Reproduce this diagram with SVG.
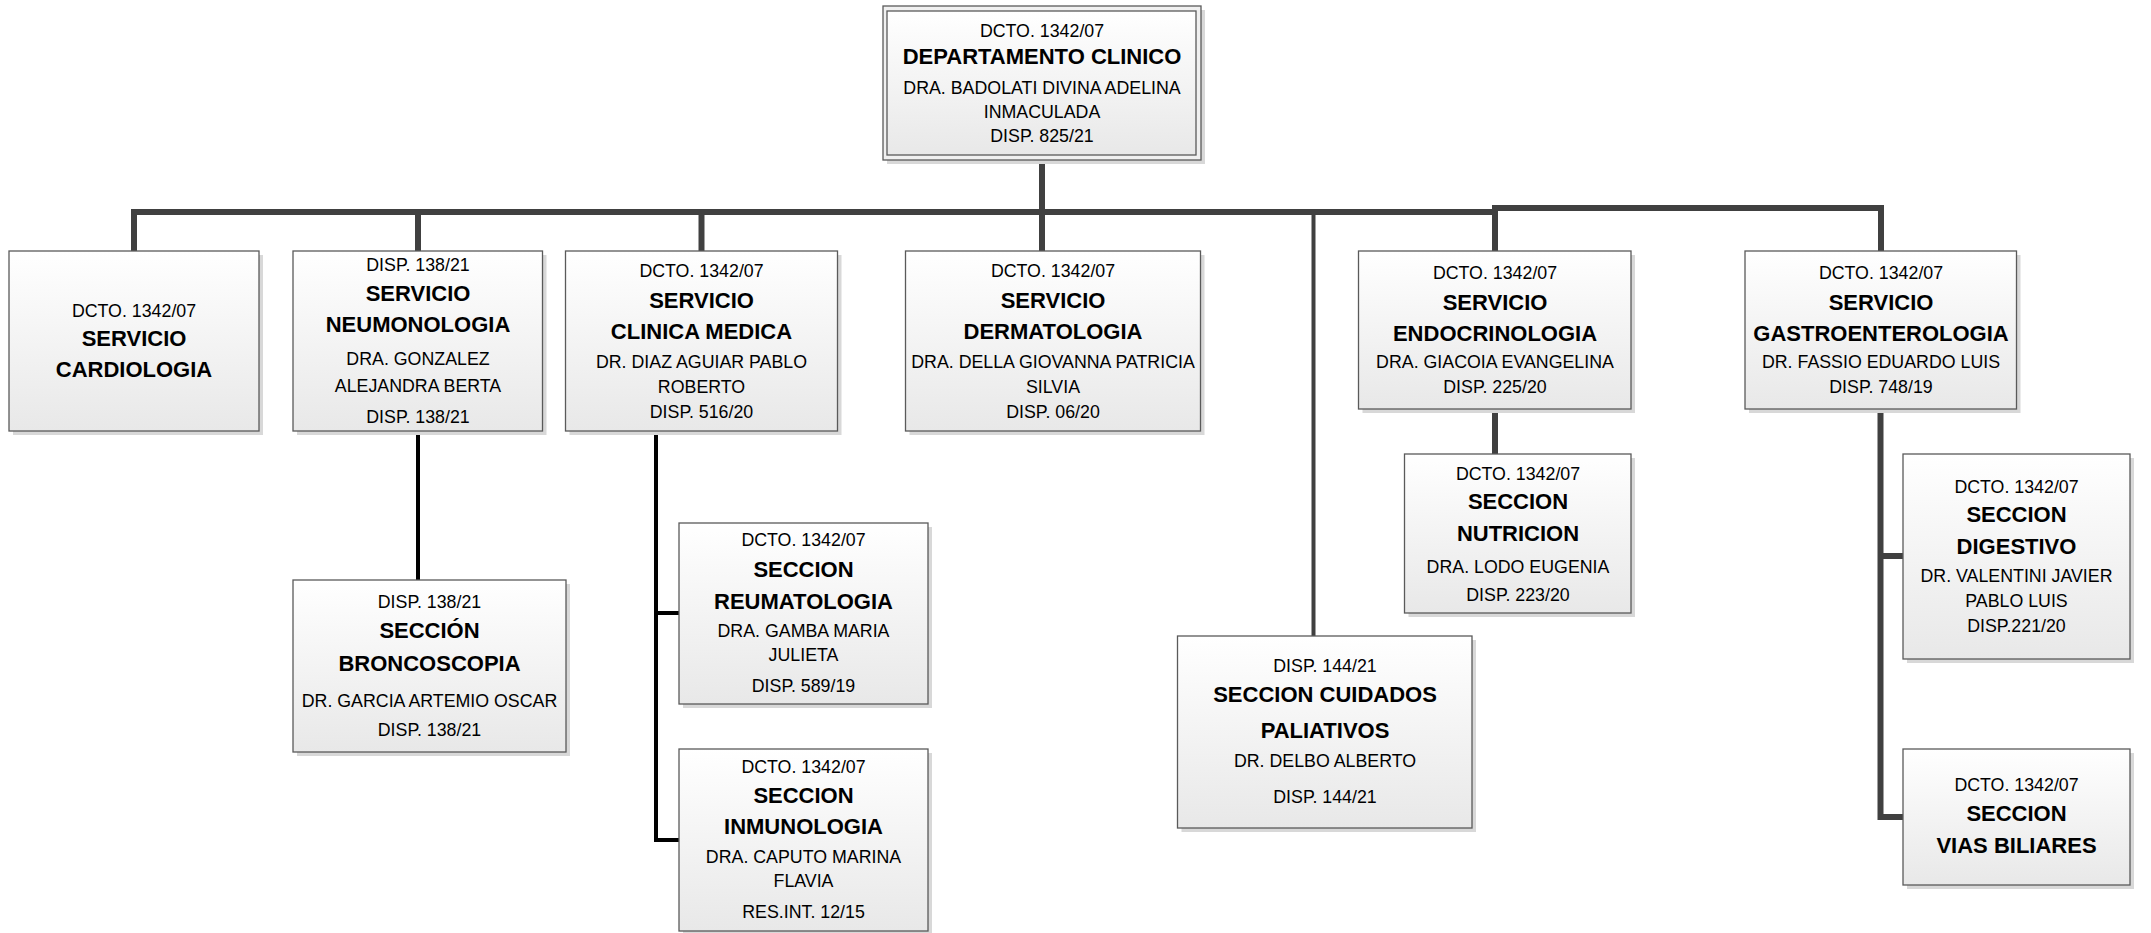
<svg xmlns="http://www.w3.org/2000/svg" width="2151" height="933" viewBox="0 0 2151 933">
<defs>
<linearGradient id="g" x1="0" y1="0" x2="0" y2="1">
<stop offset="0" stop-color="#ffffff"/>
<stop offset="1" stop-color="#e8e8e8"/>
</linearGradient>
<style>
.sh{fill:#d8d8d8}
.bx{fill:url(#g);stroke:#5a5a5a;stroke-width:1.3}
.ob{fill:#f0f0f0;stroke:#5a5a5a;stroke-width:1.3}
text{font-family:"Liberation Sans",Arial,sans-serif;text-anchor:middle;fill:#000}
.r{font-size:17.8px}
.b{font-size:22px;font-weight:bold}
.c{fill:none;stroke:#404040;stroke-width:6;stroke-linejoin:miter}
.t{fill:none;stroke:#404040;stroke-width:4}
.k{fill:none;stroke:#000;stroke-width:4}
</style>
</defs>
<rect width="2151" height="933" fill="#fff"/>
<g id="connectors">
<path class="c" d="M1042,155 V251"/>
<path class="c" d="M134,251 V212 H1495"/>
<path class="c" d="M1495,251 V208 H1881 V251"/>
<path class="c" d="M418,212 V251"/>
<path class="c" d="M701.5,212 V251"/>
<path class="t" d="M1313.5,212 V636"/>
<path class="c" d="M1495,409 V454"/>
<path class="c" d="M1880.5,409 V817 H1903"/>
<path class="c" d="M1880.5,556 H1903"/>
<path class="k" d="M418,431 V580"/>
<path class="k" d="M656,431 V840 H679"/>
<path class="k" d="M656,613 H679"/>
</g>
<g id="n-depto">
<rect class="sh" x="887" y="10" width="318" height="154"/>
<rect class="ob" x="883" y="6" width="318" height="154"/>
<rect class="bx" x="887" y="11" width="309" height="144"/>
<text class="r" x="1042" y="36.7">DCTO. 1342/07</text>
<text class="b" x="1042" y="64.3">DEPARTAMENTO CLINICO</text>
<text class="r" x="1042" y="94.3">DRA. BADOLATI DIVINA ADELINA</text>
<text class="r" x="1042" y="118.3">INMACULADA</text>
<text class="r" x="1042" y="142.3">DISP. 825/21</text>
</g>
<g id="n-cardio">
<rect class="sh" x="13" y="255" width="250" height="180"/>
<rect class="bx" x="9" y="251" width="250" height="180"/>
<text class="r" x="134" y="316.7">DCTO. 1342/07</text>
<text class="b" x="134" y="345.7">SERVICIO</text>
<text class="b" x="134" y="376.7">CARDIOLOGIA</text>
</g>
<g id="n-neumo">
<rect class="sh" x="297" y="255" width="249.5" height="180"/>
<rect class="bx" x="293" y="251" width="249.5" height="180"/>
<text class="r" x="418" y="270.7">DISP. 138/21</text>
<text class="b" x="418" y="300.7">SERVICIO</text>
<text class="b" x="418" y="332.3">NEUMONOLOGIA</text>
<text class="r" x="418" y="365">DRA. GONZALEZ</text>
<text class="r" x="418" y="392.3">ALEJANDRA BERTA</text>
<text class="r" x="418" y="422.7">DISP. 138/21</text>
</g>
<g id="n-clinica">
<rect class="sh" x="569.5" y="255" width="272" height="180"/>
<rect class="bx" x="565.5" y="251" width="272" height="180"/>
<text class="r" x="701.5" y="276.7">DCTO. 1342/07</text>
<text class="b" x="701.5" y="308">SERVICIO</text>
<text class="b" x="701.5" y="339">CLINICA MEDICA</text>
<text class="r" x="701.5" y="368">DR. DIAZ AGUIAR PABLO</text>
<text class="r" x="701.5" y="392.7">ROBERTO</text>
<text class="r" x="701.5" y="418">DISP. 516/20</text>
</g>
<g id="n-derm">
<rect class="sh" x="909.5" y="255" width="295" height="180"/>
<rect class="bx" x="905.5" y="251" width="295" height="180"/>
<text class="r" x="1053" y="277">DCTO. 1342/07</text>
<text class="b" x="1053" y="308">SERVICIO</text>
<text class="b" x="1053" y="339">DERMATOLOGIA</text>
<text class="r" x="1053" y="368">DRA. DELLA GIOVANNA PATRICIA</text>
<text class="r" x="1053" y="393">SILVIA</text>
<text class="r" x="1053" y="418">DISP. 06/20</text>
</g>
<g id="n-endo">
<rect class="sh" x="1362.5" y="255" width="272.5" height="158"/>
<rect class="bx" x="1358.5" y="251" width="272.5" height="158"/>
<text class="r" x="1495" y="279">DCTO. 1342/07</text>
<text class="b" x="1495" y="310">SERVICIO</text>
<text class="b" x="1495" y="341">ENDOCRINOLOGIA</text>
<text class="r" x="1495" y="368.3">DRA. GIACOIA EVANGELINA</text>
<text class="r" x="1495" y="393.3">DISP. 225/20</text>
</g>
<g id="n-gastro">
<rect class="sh" x="1749" y="255" width="271.5" height="158"/>
<rect class="bx" x="1745" y="251" width="271.5" height="158"/>
<text class="r" x="1881" y="279">DCTO. 1342/07</text>
<text class="b" x="1881" y="310">SERVICIO</text>
<text class="b" x="1881" y="341">GASTROENTEROLOGIA</text>
<text class="r" x="1881" y="368.3">DR. FASSIO EDUARDO LUIS</text>
<text class="r" x="1881" y="393.3">DISP. 748/19</text>
</g>
<g id="n-bronco">
<rect class="sh" x="297" y="584" width="273" height="172"/>
<rect class="bx" x="293" y="580" width="273" height="172"/>
<text class="r" x="429.5" y="607.7">DISP. 138/21</text>
<text class="b" x="429.5" y="638.3">SECCIÓN</text>
<text class="b" x="429.5" y="670.7">BRONCOSCOPIA</text>
<text class="r" x="429.5" y="706.7">DR. GARCIA ARTEMIO OSCAR</text>
<text class="r" x="429.5" y="736">DISP. 138/21</text>
</g>
<g id="n-reuma">
<rect class="sh" x="683" y="527" width="249" height="181"/>
<rect class="bx" x="679" y="523" width="249" height="181"/>
<text class="r" x="803.5" y="546">DCTO. 1342/07</text>
<text class="b" x="803.5" y="576.7">SECCION</text>
<text class="b" x="803.5" y="608.7">REUMATOLOGIA</text>
<text class="r" x="803.5" y="636.7">DRA. GAMBA MARIA</text>
<text class="r" x="803.5" y="660.7">JULIETA</text>
<text class="r" x="803.5" y="692.3">DISP. 589/19</text>
</g>
<g id="n-inmuno">
<rect class="sh" x="683" y="753" width="249" height="182"/>
<rect class="bx" x="679" y="749" width="249" height="182"/>
<text class="r" x="803.5" y="772.7">DCTO. 1342/07</text>
<text class="b" x="803.5" y="802.7">SECCION</text>
<text class="b" x="803.5" y="834.3">INMUNOLOGIA</text>
<text class="r" x="803.5" y="862.7">DRA. CAPUTO MARINA</text>
<text class="r" x="803.5" y="887.3">FLAVIA</text>
<text class="r" x="803.5" y="917.7">RES.INT. 12/15</text>
</g>
<g id="n-cuidados">
<rect class="sh" x="1181.5" y="640" width="294.5" height="192"/>
<rect class="bx" x="1177.5" y="636" width="294.5" height="192"/>
<text class="r" x="1325" y="671.7">DISP. 144/21</text>
<text class="b" x="1325" y="701.7">SECCION CUIDADOS</text>
<text class="b" x="1325" y="738.3">PALIATIVOS</text>
<text class="r" x="1325" y="767.3">DR. DELBO ALBERTO</text>
<text class="r" x="1325" y="802.7">DISP. 144/21</text>
</g>
<g id="n-nutricion">
<rect class="sh" x="1408.5" y="458" width="226.5" height="159"/>
<rect class="bx" x="1404.5" y="454" width="226.5" height="159"/>
<text class="r" x="1518" y="480">DCTO. 1342/07</text>
<text class="b" x="1518" y="509.3">SECCION</text>
<text class="b" x="1518" y="541">NUTRICION</text>
<text class="r" x="1518" y="573.3">DRA. LODO EUGENIA</text>
<text class="r" x="1518" y="600.7">DISP. 223/20</text>
</g>
<g id="n-digestivo">
<rect class="sh" x="1907" y="458" width="227" height="205"/>
<rect class="bx" x="1903" y="454" width="227" height="205"/>
<text class="r" x="2016.5" y="492.7">DCTO. 1342/07</text>
<text class="b" x="2016.5" y="521.7">SECCION</text>
<text class="b" x="2016.5" y="554">DIGESTIVO</text>
<text class="r" x="2016.5" y="581.7">DR. VALENTINI JAVIER</text>
<text class="r" x="2016.5" y="607.3">PABLO LUIS</text>
<text class="r" x="2016.5" y="632">DISP.221/20</text>
</g>
<g id="n-vias">
<rect class="sh" x="1907" y="753" width="227" height="136"/>
<rect class="bx" x="1903" y="749" width="227" height="136"/>
<text class="r" x="2016.5" y="791">DCTO. 1342/07</text>
<text class="b" x="2016.5" y="821">SECCION</text>
<text class="b" x="2016.5" y="852.7">VIAS BILIARES</text>
</g>
</svg>
